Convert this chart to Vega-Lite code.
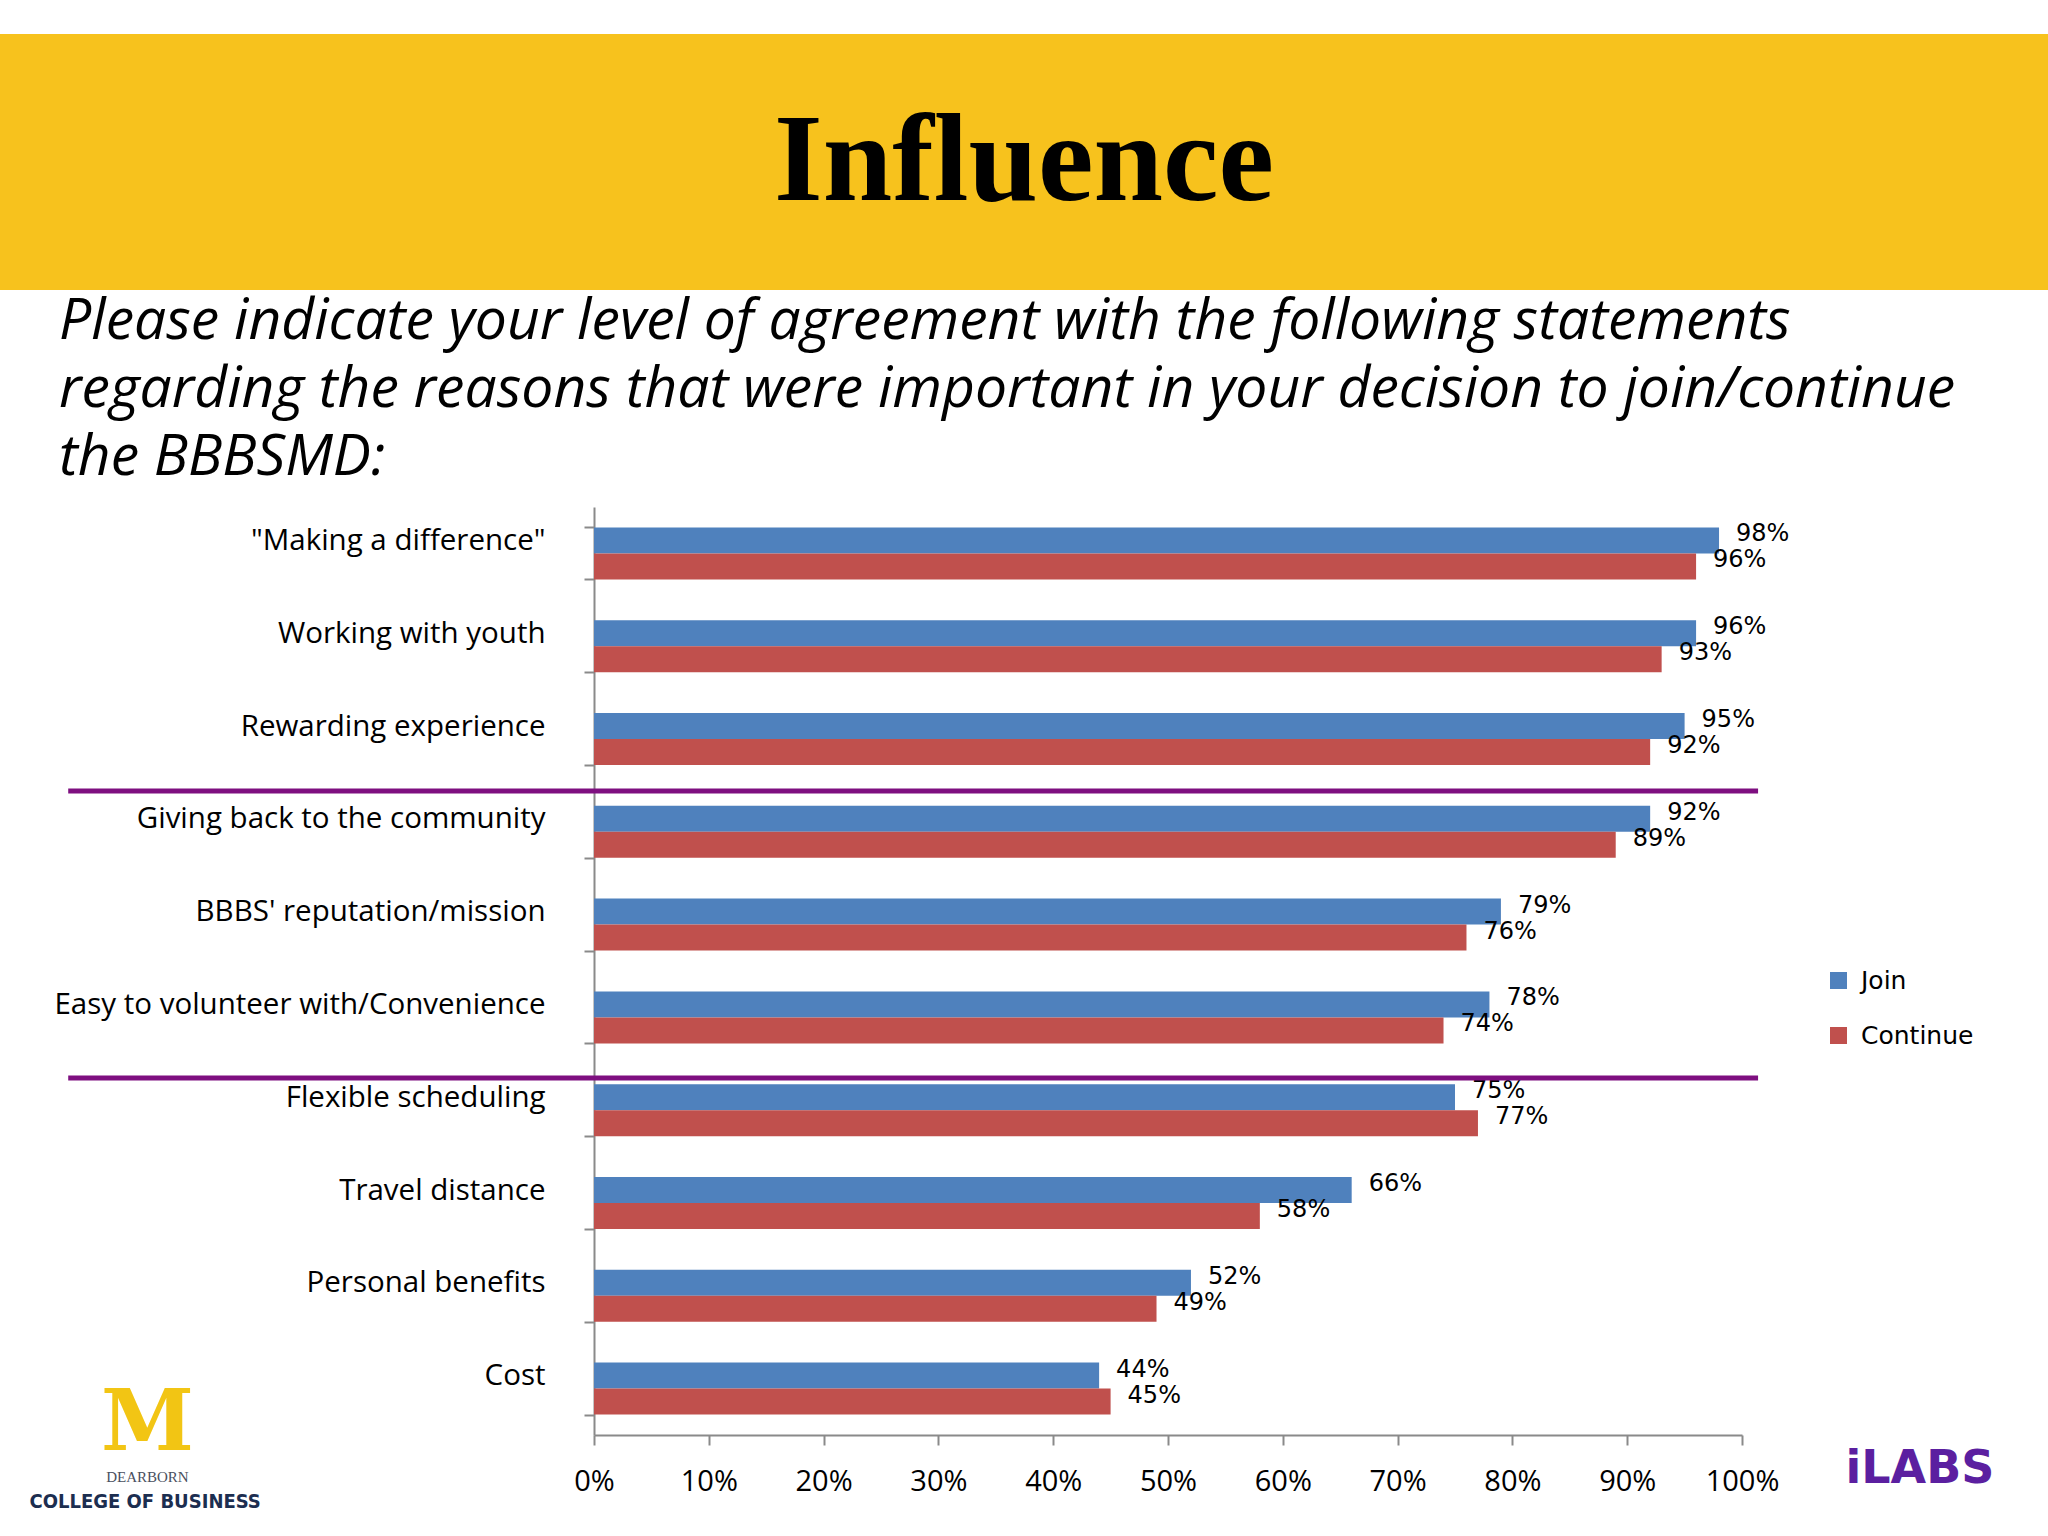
{
  "$schema": "https://vega.github.io/schema/vega-lite/v6.json",
  "background": "white",
  "padding": {"left": 0, "top": 34, "right": 0, "bottom": 0},
  "spacing": 6,
  "config": {"view": {"stroke": null}, "font": "Open Sans"},
  "datasets": {
    "bars": [
      {"reason": "\"Making a difference\"", "group": "Join", "share": 0.98},
      {"reason": "\"Making a difference\"", "group": "Continue", "share": 0.96},
      {"reason": "Working with  youth", "group": "Join", "share": 0.96},
      {"reason": "Working with  youth", "group": "Continue", "share": 0.93},
      {"reason": "Rewarding experience", "group": "Join", "share": 0.95},
      {"reason": "Rewarding experience", "group": "Continue", "share": 0.92},
      {"reason": "Giving back to the community", "group": "Join", "share": 0.92},
      {"reason": "Giving back to the community", "group": "Continue", "share": 0.89},
      {"reason": "BBBS' reputation/mission", "group": "Join", "share": 0.79},
      {"reason": "BBBS' reputation/mission", "group": "Continue", "share": 0.76},
      {"reason": "Easy to volunteer with/Convenience", "group": "Join", "share": 0.78},
      {"reason": "Easy to volunteer with/Convenience", "group": "Continue", "share": 0.74},
      {"reason": "Flexible scheduling", "group": "Join", "share": 0.75},
      {"reason": "Flexible scheduling", "group": "Continue", "share": 0.77},
      {"reason": "Travel distance", "group": "Join", "share": 0.66},
      {"reason": "Travel distance", "group": "Continue", "share": 0.58},
      {"reason": "Personal benefits", "group": "Join", "share": 0.52},
      {"reason": "Personal benefits", "group": "Continue", "share": 0.49},
      {"reason": "Cost", "group": "Join", "share": 0.44},
      {"reason": "Cost", "group": "Continue", "share": 0.45}
    ],
    "dividers": [
      {"reason": "Giving back to the community"},
      {"reason": "Flexible scheduling"}
    ],
    "heading": [{"heading": "Influence"}],
    "logos": [
      {"logo": "M"},
      {"logo": "DEARBORN"},
      {"logo": "COLLEGE OF BUSINESS"},
      {"logo": "iLABS"}
    ]
  },
  "vconcat": [
    {
      "width": 2048,
      "height": 256,
      "view": {"fill": "#F7C21D", "stroke": null},
      "data": {"name": "heading"},
      "mark": {"type": "text", "font": "Liberation Serif", "fontWeight": "bold", "fontSize": 125, "align": "center", "baseline": "middle", "color": "#000000"},
      "encoding": {
        "text": {"field": "heading"},
        "x": {"datum": 0.5, "type": "quantitative", "scale": {"domain": [0, 1]}, "axis": null},
        "y": {"datum": 0.5, "type": "quantitative", "scale": {"domain": [0, 1]}, "axis": null}
      },
      "title": {
        "text": ["Please indicate your level of agreement with the following statements", "regarding the reasons that were important in your decision to join/continue", "the BBBSMD:"],
        "orient": "bottom",
        "anchor": "start",
        "frame": "group",
        "align": "left",
        "baseline": "top",
        "dx": 59,
        "offset": 4,
        "font": "Open Sans",
        "fontStyle": "italic",
        "fontWeight": "normal",
        "fontSize": 57,
        "lineHeight": 68,
        "color": "#000000"
      }
    },
    {
      "width": 1742,
      "height": 928,
      "layer": [
        {
          "data": {"name": "bars"},
          "mark": {"type": "bar"},
          "encoding": {
            "y": {
              "field": "reason", "type": "nominal", "sort": null,
              "scale": {"paddingInner": 0.44, "paddingOuter": 0.22},
              "axis": {
                "title": null,
                "offset": -594,
                "domainColor": "#8A8A8A",
                "domainWidth": 2,
                "tickColor": "#8A8A8A",
                "tickWidth": 2,
                "tickSize": 10,
                "tickBand": "extent",
                "labelFont": "Open Sans",
                "labelFontSize": 29.5,
                "labelColor": "#000000",
                "labelPadding": 39,
                "labelOffset": -13,
                "labelLimit": 800
              }
            },
            "yOffset": {"field": "group", "type": "nominal", "sort": ["Join", "Continue"]},
            "x": {
              "field": "share", "type": "quantitative",
              "scale": {"domain": [0, 1], "nice": false, "range": [594, 1742]},
              "axis": {
                "title": null,
                "values": [0, 0.1, 0.2, 0.3, 0.4, 0.5, 0.6, 0.7, 0.8, 0.9, 1],
                "format": ".0%",
                "grid": false,
                "domainColor": "#8A8A8A",
                "domainWidth": 2,
                "tickColor": "#8A8A8A",
                "tickWidth": 2,
                "tickSize": 10,
                "labelFont": "Open Sans",
                "labelFontSize": 29,
                "labelColor": "#000000",
                "labelPadding": 22,
                "labelFlush": false
              }
            },
            "color": {
              "field": "group", "type": "nominal",
              "scale": {"domain": ["Join", "Continue"], "range": ["#4F81BD", "#C0504D"]},
              "legend": {
                "title": null,
                "orient": "none",
                "legendX": 1826,
                "legendY": 934,
                "symbolType": "square",
                "symbolSize": 289,
                "symbolStrokeWidth": 0,
                "labelFont": "DejaVu Sans",
                "labelFontSize": 25,
                "labelColor": "#000000",
                "labelOffset": 10,
                "rowPadding": 29,
                "padding": 0
              }
            }
          }
        },
        {
          "data": {"name": "bars"},
          "mark": {"type": "text", "align": "left", "baseline": "middle", "dx": 17, "dy": -6, "font": "DejaVu Sans", "fontSize": 24, "color": "#000000"},
          "encoding": {
            "y": {"field": "reason", "type": "nominal", "sort": null},
            "yOffset": {"field": "group", "type": "nominal", "sort": ["Join", "Continue"]},
            "x": {"field": "share", "type": "quantitative"},
            "text": {"field": "share", "type": "quantitative", "format": ".0%"}
          }
        },
        {
          "data": {"name": "dividers"},
          "transform": [{"filter": "datum.reason === 'Giving back to the community'"}],
          "mark": {"type": "rule", "color": "#7E0F80", "strokeWidth": 5, "clip": false},
          "encoding": {
            "y": {"field": "reason", "type": "nominal", "sort": null, "bandPosition": -0.285},
            "x": {"datum": -0.458, "type": "quantitative"},
            "x2": {"datum": 1.014}
          }
        },
        {
          "data": {"name": "dividers"},
          "transform": [{"filter": "datum.reason === 'Flexible scheduling'"}],
          "mark": {"type": "rule", "color": "#7E0F80", "strokeWidth": 5, "clip": false},
          "encoding": {
            "y": {"field": "reason", "type": "nominal", "sort": null, "bandPosition": -0.12},
            "x": {"datum": -0.458, "type": "quantitative"},
            "x2": {"datum": 1.014}
          }
        },
        {
          "data": {"name": "logos"},
          "transform": [{"filter": "datum.logo === 'M'"}],
          "mark": {"type": "text", "font": "DejaVu Serif", "fontWeight": "bold", "fontSize": 84, "align": "center", "baseline": "middle", "color": "#F2C514", "clip": false},
          "encoding": {
            "text": {"field": "logo"},
            "x": {"datum": -0.389, "type": "quantitative"},
            "y": {"datum": "Cost", "type": "nominal", "bandPosition": 1.2}
          }
        },
        {
          "data": {"name": "logos"},
          "transform": [{"filter": "datum.logo === 'DEARBORN'"}],
          "mark": {"type": "text", "font": "Liberation Serif", "fontSize": 15, "align": "center", "baseline": "middle", "color": "#4A5060", "clip": false},
          "encoding": {
            "text": {"field": "logo"},
            "x": {"datum": -0.389, "type": "quantitative"},
            "y": {"datum": "Cost", "type": "nominal", "bandPosition": 2.2}
          }
        },
        {
          "data": {"name": "logos"},
          "transform": [{"filter": "datum.logo === 'COLLEGE OF BUSINESS'"}],
          "mark": {"type": "text", "font": "DejaVu Sans Condensed", "fontWeight": "bold", "fontSize": 20, "align": "center", "baseline": "middle", "color": "#1C2E50", "clip": false},
          "encoding": {
            "text": {"field": "logo"},
            "x": {"datum": -0.391, "type": "quantitative"},
            "y": {"datum": "Cost", "type": "nominal", "bandPosition": 2.68}
          }
        },
        {
          "data": {"name": "logos"},
          "transform": [{"filter": "datum.logo === 'iLABS'"}],
          "mark": {"type": "text", "font": "DejaVu Sans", "fontWeight": "bold", "fontSize": 46, "align": "center", "baseline": "middle", "color": "#5B1FA0", "clip": false},
          "encoding": {
            "text": {"field": "logo"},
            "x": {"datum": 1.155, "type": "quantitative"},
            "y": {"datum": "Cost", "type": "nominal", "bandPosition": 2.05}
          }
        }
      ]
    }
  ]
}
